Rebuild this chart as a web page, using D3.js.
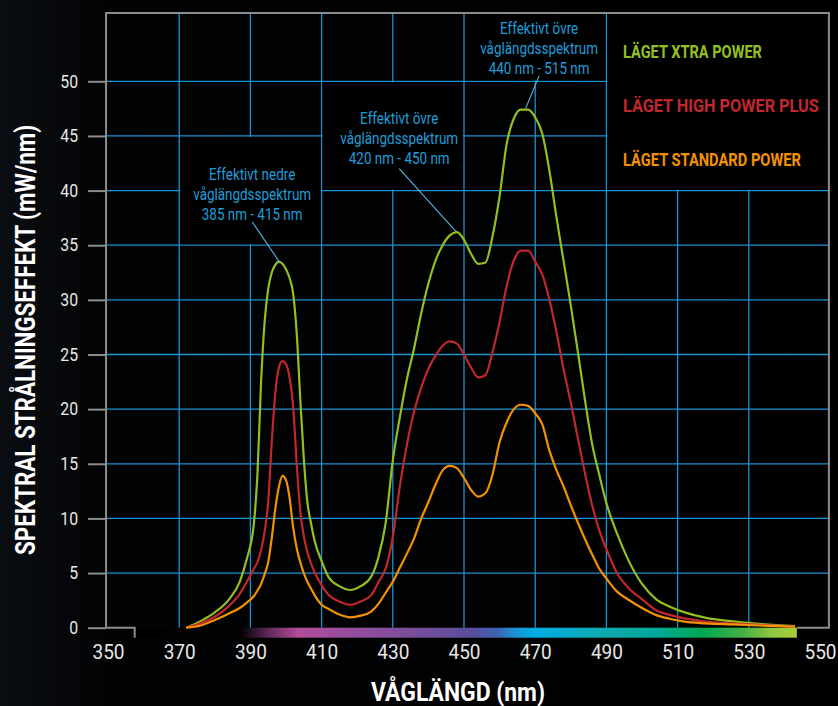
<!DOCTYPE html>
<html>
<head>
<meta charset="utf-8">
<script src="https://cdn.jsdelivr.net/npm/d3@7"></script>
<style>
  body { margin: 0; background: #000; }
  svg { display: block; }
</style>
</head>
<body>
<svg id="chart"></svg>
<script>
// Spectrum data
const wavelengths = [372, 376, 380, 384, 387, 389, 391, 392, 393, 394, 395, 396, 397, 398, 399, 400, 401, 402, 403, 404, 405, 406, 407, 408, 410, 412, 415, 418, 421, 424, 426, 428, 430, 432, 434, 436, 438, 440, 442, 444, 446, 448, 450, 452, 454, 456, 458, 460, 462, 464, 466, 468, 470, 472, 474, 476, 478, 480, 482, 484, 486, 488, 490, 493, 496, 500, 504, 508, 512, 518, 525, 533, 543];

const xtraPower = [0, 0.6, 1.4, 2.6, 4.2, 6.3, 9.6, 14.2, 22.5, 28.0, 31.0, 32.5, 33.2, 33.5, 33.3, 32.8, 32.0, 30.6, 27.0, 21.0, 15.5, 11.5, 9.6, 8.0, 6.1, 4.6, 3.8, 3.45, 3.8, 4.7, 6.5, 9.6, 15.3, 19.3, 22.8, 25.6, 28.8, 31.5, 33.6, 35.0, 35.9, 36.2, 35.5, 34.2, 33.3, 33.4, 35.8, 39.5, 44.3, 46.6, 47.4, 47.4, 46.7, 45.2, 41.8, 37.5, 33.5, 29.5, 25.2, 20.8, 16.8, 14.0, 11.4, 8.6, 6.3, 4.0, 2.6, 1.9, 1.4, 0.9, 0.6, 0.35, 0.15];

const highPowerPlus = [0, 0.4, 1.0, 2.0, 3.1, 4.2, 5.4, 6.0, 7.1, 8.8, 11.5, 17.0, 21.5, 23.8, 24.4, 24.1, 22.9, 20.3, 15.0, 10.7, 8.4, 6.9, 5.9, 5.1, 3.9, 3.0, 2.4, 2.1, 2.4, 3.0, 4.2, 5.4, 8.3, 13.0, 16.8, 19.8, 22.0, 23.7, 24.9, 25.8, 26.2, 26.0, 25.0, 23.8, 22.9, 23.1, 25.2, 28.0, 31.3, 33.6, 34.5, 34.5, 33.5, 32.3, 30.0, 27.0, 23.6, 20.6, 17.3, 14.1, 11.2, 8.9, 7.2, 5.0, 3.7, 2.6, 1.6, 1.15, 0.85, 0.55, 0.4, 0.25, 0.1];

const standardPower = [0, 0.2, 0.7, 1.3, 1.8, 2.3, 2.9, 3.4, 4.0, 4.9, 6.0, 8.2, 10.9, 12.9, 13.9, 13.5, 11.9, 9.2, 7.3, 6.0, 5.0, 4.2, 3.6, 3.0, 2.1, 1.7, 1.2, 0.95, 1.1, 1.5, 2.2, 3.2, 4.2, 5.5, 6.8, 8.2, 10.0, 11.5, 13.1, 14.4, 14.8, 14.6, 13.7, 12.6, 12.0, 12.3, 14.0, 17.0, 18.8, 20.0, 20.4, 20.3, 19.6, 18.6, 16.2, 14.4, 12.9, 11.2, 9.6, 8.1, 6.7, 5.4, 4.5, 3.3, 2.6, 1.8, 1.15, 0.8, 0.55, 0.4, 0.3, 0.2, 0.1];

const seriesNames = ["LÄGET XTRA POWER", "LÄGET HIGH POWER PLUS", "LÄGET STANDARD POWER"];
const seriesValues = [xtraPower, highPowerPlus, standardPower];
const seriesColors = ["#93c01f", "#c1272d", "#f39200"];

const xTicks = [350, 370, 390, 410, 430, 450, 470, 490, 510, 530, 550];
const yTicks = [0, 5, 10, 15, 20, 25, 30, 35, 40, 45, 50];

// callouts: text lines, text anchor (nm, value), leader start and peak
const callouts = [
  { lines: ["Effektivt nedre", "våglängdsspektrum", "385 nm - 415 nm"], nm: 390.5, val: 40.95, fromVal: 37.15, toNm: 398.3, toVal: 33.4, box: [370, 410, 35, 45] },
  { lines: ["Effektivt övre", "våglängdsspektrum", "420 nm - 450 nm"], nm: 431.8, val: 46.1, fromVal: 42.0, toNm: 447.9, toVal: 36.2, box: [410, 450, 40, 50] },
  { lines: ["Effektivt övre", "våglängdsspektrum", "440 nm - 515 nm"], nm: 471.1, val: 54.3, fromVal: 50.5, toNm: 467.3, toVal: 47.5, box: [450, 490, 50, 56.25] }
];

// visible light colour strip under the axis
const spectrumStops = [
  [357.5, "#000000"], [387.5, "#060206"], [395, "#5e2858"], [403.5, "#b24c9a"], [416, "#9a4d9e"],
  [427, "#884e9c"], [443, "#6a4e9b"], [452.5, "#584e9c"], [459, "#3f62b0"], [464, "#1d8fd1"],
  [469.5, "#00aee6"], [477, "#05acd2"], [491, "#10a9ab"], [504, "#00a99a"], [517, "#00a651"],
  [528, "#45ae48"], [536, "#8dc63f"], [543.5, "#a8cf38"]
];

const W = 838, H = 706;
const font = "Roboto, 'Liberation Sans', sans-serif";

const x = d3.scaleLinear().domain([350, 550]).range([108, 820]);
const y = d3.scaleLinear().domain([0, 50]).range([627.7, 81.3]);
const xMin = 349.45, xMax = 552.5, yMax = 56.25;

// squeeze text horizontally to imitate the condensed typeface
function condense(sel, k) {
  sel.each(function() {
    const w = this.getComputedTextLength();
    d3.select(this).attr("textLength", w * k).attr("lengthAdjust", "spacingAndGlyphs");
  });
}

const svg = d3.select("#chart")
  .attr("width", W)
  .attr("height", H)
  .style("font-family", font);

const defs = svg.append("defs");

// faint vignette on the left side of the background
const bg = defs.append("linearGradient").attr("id", "bg").attr("x1", 0).attr("x2", 1).attr("y1", 0).attr("y2", 0);
bg.append("stop").attr("offset", 0).attr("stop-color", "#0a0d12");
bg.append("stop").attr("offset", 0.13).attr("stop-color", "#020304");
bg.append("stop").attr("offset", 1).attr("stop-color", "#000");

svg.append("rect").attr("width", W).attr("height", H).attr("fill", "url(#bg)");

// Grid lines
const grid = svg.append("g").attr("class", "grid")
  .attr("stroke", "#1a93d2")
  .attr("stroke-width", 1.3);

grid.selectAll(".vline")
  .data(xTicks.filter(d => d > 350 && d < 550))
  .enter()
  .append("line")
  .attr("x1", d => x(d)).attr("x2", d => x(d))
  .attr("y1", y(yMax)).attr("y2", y(0));

grid.selectAll(".hline")
  .data(yTicks.filter(d => d > 0))
  .enter()
  .append("line")
  .attr("x1", x(xMin)).attr("x2", x(xMax))
  .attr("y1", d => y(d)).attr("y2", d => y(d));

// black panels behind callouts and legend
const panels = callouts.map(c => c.box).concat([[490, xMax, 40, yMax]]);
svg.append("g").selectAll("rect")
  .data(panels)
  .enter()
  .append("rect")
  .attr("x", d => x(d[0]) + 1)
  .attr("y", d => y(d[3]) + 1)
  .attr("width", d => x(d[1]) - x(d[0]) - 2)
  .attr("height", d => y(d[2]) - y(d[3]) - 2)
  .attr("fill", "#000");

// Spectrum strip
const sx1 = x(spectrumStops[0][0]), sx2 = x(spectrumStops[spectrumStops.length - 1][0]);
const spec = defs.append("linearGradient").attr("id", "spectrum")
  .attr("gradientUnits", "userSpaceOnUse")
  .attr("x1", sx1).attr("x2", sx2).attr("y1", 0).attr("y2", 0);
spec.selectAll("stop")
  .data(spectrumStops)
  .enter()
  .append("stop")
  .attr("offset", d => (x(d[0]) - sx1) / (sx2 - sx1))
  .attr("stop-color", d => d[1]);

svg.append("rect")
  .attr("x", sx1).attr("y", y(0))
  .attr("width", sx2 - sx1).attr("height", 10)
  .attr("fill", "url(#spectrum)");

// Frame
const frame = svg.append("g").attr("stroke", "#8c8c8c").attr("stroke-width", 2).attr("fill", "none");
frame.append("path")
  .attr("d", `M${x(xMin)},${y(0)} V${y(yMax)} H${x(xMax)} V${y(0)} H${sx2}`);
frame.append("path")
  .attr("d", `M${x(xMin)},${y(0)} H${sx1} V${y(0) + 10}`);

// Curves
const line = d3.line()
  .x((d, i) => x(wavelengths[i]))
  .y(d => y(d))
  .curve(d3.curveMonotoneX);

svg.append("g").selectAll("path")
  .data(seriesValues)
  .enter()
  .append("path")
  .attr("d", d => line(d))
  .attr("fill", "none")
  .attr("stroke", (d, i) => seriesColors[i])
  .attr("stroke-width", 2.2);

// Y axis
const yAxis = svg.append("g")
  .attr("transform", `translate(${x(xMin)},0)`)
  .call(d3.axisLeft(y).tickValues(yTicks).tickSize(18).tickPadding(10));
yAxis.select(".domain").remove();
yAxis.selectAll(".tick line").attr("stroke", "#8c8c8c").attr("stroke-width", 2);
yAxis.selectAll(".tick text")
  .attr("fill", "#e8e8e8")
  .style("font-family", font)
  .style("font-size", "18px")
  .call(condense, 0.88);

// X axis
const xAxis = svg.append("g")
  .attr("transform", `translate(0,${y(0)})`)
  .call(d3.axisBottom(x).tickValues(xTicks).tickSize(0).tickPadding(17));
xAxis.select(".domain").remove();
xAxis.selectAll(".tick text")
  .attr("fill", "#e8e8e8")
  .style("font-family", font)
  .style("font-size", "20px")
  .call(condense, 0.95);

// Axis titles
svg.append("text")
  .attr("transform", "translate(35,340) rotate(-90)")
  .attr("text-anchor", "middle")
  .attr("fill", "#fff")
  .attr("font-weight", "bold")
  .attr("font-size", 28)
  .attr("textLength", 430)
  .attr("lengthAdjust", "spacingAndGlyphs")
  .text("SPEKTRAL STRÅLNINGSEFFEKT (mW/nm)");

svg.append("text")
  .attr("x", 458)
  .attr("y", 701)
  .attr("text-anchor", "middle")
  .attr("fill", "#fff")
  .attr("font-weight", "bold")
  .attr("font-size", 26)
  .attr("textLength", 174)
  .attr("lengthAdjust", "spacingAndGlyphs")
  .text("VÅGLÄNGD (nm)");

// Callouts
const co = svg.append("g").selectAll("g")
  .data(callouts)
  .enter()
  .append("g");

co.append("line")
  .attr("x1", d => x(d.nm)).attr("y1", d => y(d.fromVal))
  .attr("x2", d => x(d.toNm)).attr("y2", d => y(d.toVal))
  .attr("stroke", "#5ab7e4")
  .attr("stroke-width", 1.1);

co.each(function(d) {
  d3.select(this).selectAll("text")
    .data(d.lines)
    .enter()
    .append("text")
    .attr("x", x(d.nm))
    .attr("y", (t, i) => y(d.val) + i * 20)
    .attr("text-anchor", "middle")
    .attr("fill", "#1e9ed9")
    .attr("font-size", 16)
    .text(t => t)
    .call(condense, 0.84);
});

// Legend (squeezed with a transform so the box stays inside the frame)
const legendWidths = [139, 196, 178];
const legendItems = svg.append("g").selectAll("g")
  .data(seriesNames)
  .enter()
  .append("g");

legendItems.append("text")
  .attr("fill", (d, i) => seriesColors[i])
  .attr("font-weight", "bold")
  .attr("font-size", 19)
  .text(d => d);

legendItems.each(function(d, i) {
  const w = d3.select(this).select("text").node().getComputedTextLength();
  d3.select(this).attr("transform", `translate(623,${58 + i * 54}) scale(${legendWidths[i] / w},1)`);
});
</script>
</body>
</html>
